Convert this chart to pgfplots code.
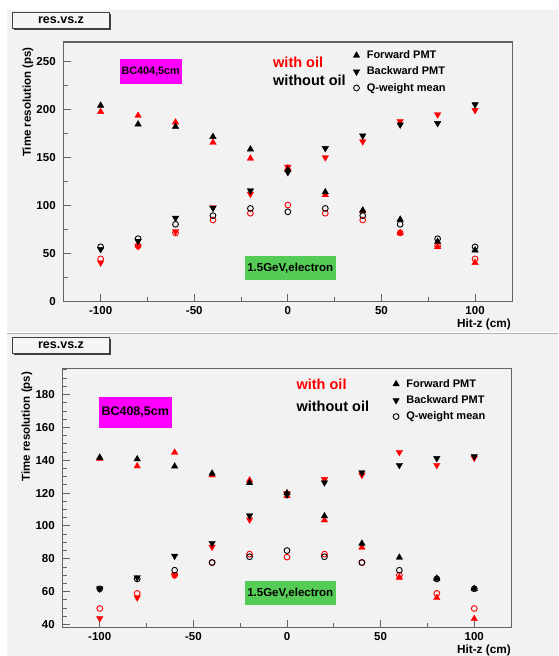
\documentclass[border=0pt]{standalone}
\usepackage{fontspec}
\setmainfont{Liberation Sans}
\usepackage{pgfplots}
\usepackage{pgfplotstable}
\pgfplotsset{compat=1.18}

\definecolor{bgc}{RGB}{242,242,242}
\definecolor{framec}{RGB}{100,100,100}
\definecolor{boxmag}{RGB}{255,0,255}
\definecolor{boxgrn}{RGB}{85,204,85}
\newcommand{\fs}[1]{\fontsize{#1}{#1}\selectfont\bfseries}

% x, forward (black/red), backward (black/red), Q-weight mean (black/red)
\pgfplotstableread{
x    fb     fr     bb     br     cb    cr
-100 204    197.5  54.5   40.5   57    44.5
-80  184.5  193.5  63     57.5   65.5  58
-60  182    186.5  87     73     80.5  71.5
-40  171.5  165.5  97.5   98     89.5  85
-20  158.5  149    115.5  112    97    92
0    137    139    134.5  140    93.5  100.5
20   114    111    159.5  150    97    92
40   95     94.5   172.5  166.5  89.5  85
60   85.5   71.5   184    187.5  80.5  71.5
80   62.5   57     185.5  194.5  65.5  58
100  53.5   40.5   205    199    57    44.5
}\bcfour

\pgfplotstableread{
x    fb     fr     bb     br     cb    cr
-100 141.7  141    61.7   43.7   61.7  49.7
-80  140.7  136.4  68.6   56.3   67.7  58.9
-60  136.3  144.7  81.7   70     73    70
-40  132    130.9  89.5   87.2   77.7  77.7
-20  126.2  127.8  106.3  103.8  81.2  82.8
0    120    118.3  119    120    85    81
20   106    103.5  126.4  128.4  81.2  82.8
40   89.3   86.9   132.5  131    77.7  77.7
60   80.8   68.6   137    144.9  73    70
80   68     56.2   141.2  137    67.7  58.9
100  61.7   43.4   142.4  141.4  61.7  49.7
}\bceight

\pgfplotsset{
  rootax/.style={
    scale only axis,
    xmin=-120, xmax=120,
    axis line style={draw=framec, line width=1.2pt},
    tick style={draw=framec, line width=0.9pt},
    tick align=inside, tick pos=left,
    major tick length=8pt, minor tick length=4.5pt,
    xtick={-100,-50,0,50,100}, minor xtick={-75,-25,25,75},
    ticklabel style={font=\fs{11.5}},
    yticklabel style={xshift=-4pt},
    xticklabel style={yshift=-1pt},
    /pgf/number format/assume math mode=true,
    legend cell align=left,
    legend style={draw=none, fill=none, font=\fs{11}, inner sep=0pt,
      row sep=2.8pt,
      /tikz/every odd column/.append style={column sep=5pt}},
  },
  upm/.style={only marks, mark=triangle*, mark size=3.8pt, line width=0.3pt},
  dnm/.style={only marks, mark=triangle*, mark size=3.8pt, line width=0.3pt, mark options={rotate=180}},
  cim/.style={only marks, mark=o, mark size=2.9pt, line width=0.9pt},
}

\begin{document}
\begin{tikzpicture}
\useasboundingbox (0pt,0pt) rectangle (558pt,-656pt);
\fill[white] (0pt,0pt) rectangle (558pt,-656pt);
\fill[bgc] (7pt,-10pt) rectangle (558pt,-332pt);
\fill[bgc] (7pt,-334pt) rectangle (558pt,-656pt);
\draw[black!30, line width=0.6pt] (7pt,-333pt) -- (558pt,-333pt);

% title boxes
\foreach \yy in {0,325} {
  \fill[black!75] (14.2pt,-14pt-\yy pt) rectangle (110.6pt,-30pt-\yy pt);
  \filldraw[fill=black!4, draw=black!75, line width=0.6pt] (12.7pt,-12pt-\yy pt) rectangle (109.2pt,-28.5pt-\yy pt);
  \node[font=\fs{12.5}] at (61pt,-20.3pt-\yy pt) {res.vs.z};
}

% ---------- top panel: BC404 ----------
\begin{axis}[rootax,
  at={(63.2pt,-301.7pt)}, anchor=south west,
  width=449.3pt, height=259.7pt,
  ymin=0, ymax=270,
  ytick={0,50,...,250}, minor ytick={25,75,...,225},
  legend style={at={(0.645,0.975)}, anchor=north west},
]
  \addplot[upm, red, forget plot] table[y=fr] {\bcfour};
  \addplot[dnm, red, forget plot] table[y=br] {\bcfour};
  \addplot[cim, red, forget plot] table[y=cr] {\bcfour};
  \addplot[upm, black] table[y=fb] {\bcfour};
  \addlegendentry{Forward PMT}
  \addplot[dnm, black] table[y=bb] {\bcfour};
  \addlegendentry{Backward PMT}
  \addplot[cim, black] table[y=cb] {\bcfour};
  \addlegendentry{Q-weight mean}
\end{axis}

\fill[boxmag] (120pt,-59.3pt) rectangle (181.5pt,-84pt);
\node[font=\fs{10.8}] at (150.7pt,-71.6pt) {BC404,5cm};
\fill[boxgrn] (244.8pt,-256pt) rectangle (335.6pt,-280pt);
\node[font=\fs{11.5}] at (290.2pt,-268pt) {1.5GeV,electron};
\node[anchor=west, inner sep=0pt, text=red, font=\fs{14.5}] at (273pt,-62pt) {with oil};
\node[anchor=west, inner sep=0pt, font=\fs{14.5}] at (273pt,-80pt) {without oil};
\node[rotate=90, anchor=east, inner sep=0pt, font=\fs{11.5}] at (28pt,-47pt) {Time resolution (ps)};
\node[anchor=east, inner sep=0pt, font=\fs{11.8}] at (511pt,-324pt) {Hit-z (cm)};

% ---------- bottom panel: BC408 ----------
\begin{axis}[rootax,
  at={(62.3pt,-627.7pt)}, anchor=south west,
  width=449.4pt, height=259.4pt,
  ymin=38, ymax=196,
  ytick={40,60,...,180}, minor ytick={40,45,...,195},
  legend style={at={(0.735,0.966)}, anchor=north west},
]
  \addplot[upm, red, forget plot] table[y=fr] {\bceight};
  \addplot[dnm, red, forget plot] table[y=br] {\bceight};
  \addplot[cim, red, forget plot] table[y=cr] {\bceight};
  \addplot[upm, black] table[y=fb] {\bceight};
  \addlegendentry{Forward PMT}
  \addplot[dnm, black] table[y=bb] {\bceight};
  \addlegendentry{Backward PMT}
  \addplot[cim, black] table[y=cb] {\bceight};
  \addlegendentry{Q-weight mean}
\end{axis}

\fill[boxmag] (98.9pt,-396.7pt) rectangle (171.5pt,-427.7pt);
\node[font=\fs{12.5}] at (135.2pt,-412.2pt) {BC408,5cm};
\fill[boxgrn] (244.8pt,-580.7pt) rectangle (335.6pt,-605.3pt);
\node[font=\fs{11.5}] at (290.2pt,-593pt) {1.5GeV,electron};
\node[anchor=west, inner sep=0pt, text=red, font=\fs{14.5}] at (296.4pt,-384pt) {with oil};
\node[anchor=west, inner sep=0pt, font=\fs{14.5}] at (296.4pt,-406pt) {without oil};
\node[rotate=90, anchor=east, inner sep=0pt, font=\fs{11.5}] at (27pt,-371.7pt) {Time resolution (ps)};
\node[anchor=east, inner sep=0pt, font=\fs{11.8}] at (511pt,-650pt) {Hit-z (cm)};
\end{tikzpicture}
\end{document}
